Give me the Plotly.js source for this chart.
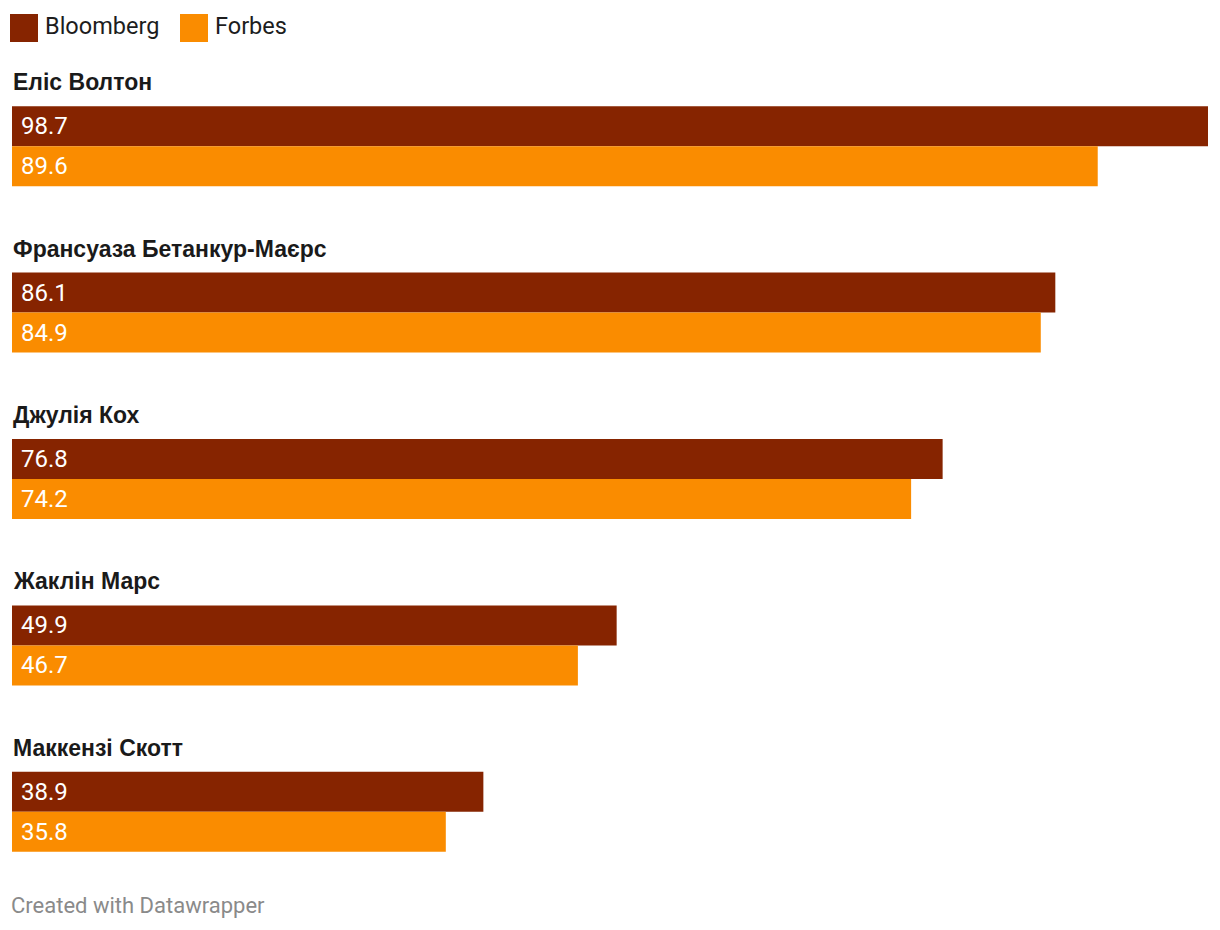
<!DOCTYPE html>
<html>
<head>
<meta charset="utf-8">
<script src="https://cdn.plot.ly/plotly-3.0.1.min.js"></script>
<style>
  html, body { margin: 0; padding: 0; background: #ffffff; }
  #chart { width: 1220px; height: 930px; }
</style>
</head>
<body>
<div id="chart"></div>
<script>
// Chart data
const people = ['Еліс Волтон', 'Франсуаза Бетанкур-Маєрс', 'Джулія Кох', 'Жаклін Марс', 'Маккензі Скотт'];
const bloomberg = [98.7, 86.1, 76.8, 49.9, 38.9];
const forbes = [89.6, 84.9, 74.2, 46.7, 35.8];
const seriesNames = ['Bloomberg', 'Forbes'];

const colBloomberg = '#862400';
const colForbes = '#fa8c00';

function barTrace(name, values, color) {
    return {
        type: 'bar',
        orientation: 'h',
        name: name,
        x: values,
        y: people,
        marker: { color: color, line: { width: 0 } },
        // leading nbsp pushes the value a bit further into the bar
        text: values.map(v => '\u00a0' + v.toFixed(1)),
        textposition: 'inside',
        insidetextanchor: 'start',
        constraintext: 'none',
        textfont: { family: 'Roboto, sans-serif', size: 24, color: '#ffffff' },
        hoverinfo: 'skip',
        showlegend: false
    };
}

const traces = [
    barTrace(seriesNames[0], bloomberg, colBloomberg),
    barTrace(seriesNames[1], forbes, colForbes)
];

const annotations = [];

// Name labels above each bar pair
people.forEach(p => {
    annotations.push({
        xref: 'paper', yref: 'y',
        x: 0, y: p,
        xanchor: 'left', yanchor: 'middle',
        xshift: -1, yshift: 64,
        text: '<b>' + p + '</b>',
        showarrow: false,
        font: { family: 'Liberation Sans, Arial, sans-serif', size: 23, color: '#1a1a1a' }
    });
});

// Legend labels
const legendX = [31, 201];
seriesNames.forEach((n, i) => {
    annotations.push({
        xref: 'paper', yref: 'paper',
        x: 0, y: 1,
        xanchor: 'left', yanchor: 'middle',
        xshift: legendX[i], yshift: 37,
        text: n,
        showarrow: false,
        font: { family: 'Roboto, sans-serif', size: 23.5, color: '#1d1d1d' }
    });
});

// Footer
annotations.push({
    xref: 'paper', yref: 'paper',
    x: 0, y: 0,
    xanchor: 'left', yanchor: 'middle',
    xshift: -3, yshift: -10,
    text: 'Created with Datawrapper',
    showarrow: false,
    font: { family: 'Roboto, sans-serif', size: 22, color: '#8a8a8a' }
});

// Legend squares
const shapes = [colBloomberg, colForbes].map((c, i) => ({
    type: 'rect',
    xref: 'paper', yref: 'paper',
    xsizemode: 'pixel', ysizemode: 'pixel',
    xanchor: 0, yanchor: 1,
    x0: -2 + i * 170, x1: 26 + i * 170,
    y0: 21, y1: 49,
    fillcolor: c,
    line: { width: 0 }
}));

const layout = {
    width: 1220,
    height: 930,
    margin: { t: 63, b: 35, l: 12, r: 12, pad: 0 },
    barmode: 'group',
    bargap: 0.519,
    bargroupgap: 0,
    xaxis: {
        range: [0, Math.max(...bloomberg, ...forbes)],
        visible: false,
        fixedrange: true
    },
    yaxis: {
        type: 'category',
        range: [4.5, -0.5],
        visible: false,
        fixedrange: true
    },
    showlegend: false,
    annotations: annotations,
    shapes: shapes,
    plot_bgcolor: '#ffffff',
    paper_bgcolor: '#ffffff',
    font: { family: 'Roboto, sans-serif' }
};

Plotly.newPlot('chart', traces, layout, { displayModeBar: false, staticPlot: true });
</script>
</body>
</html>
